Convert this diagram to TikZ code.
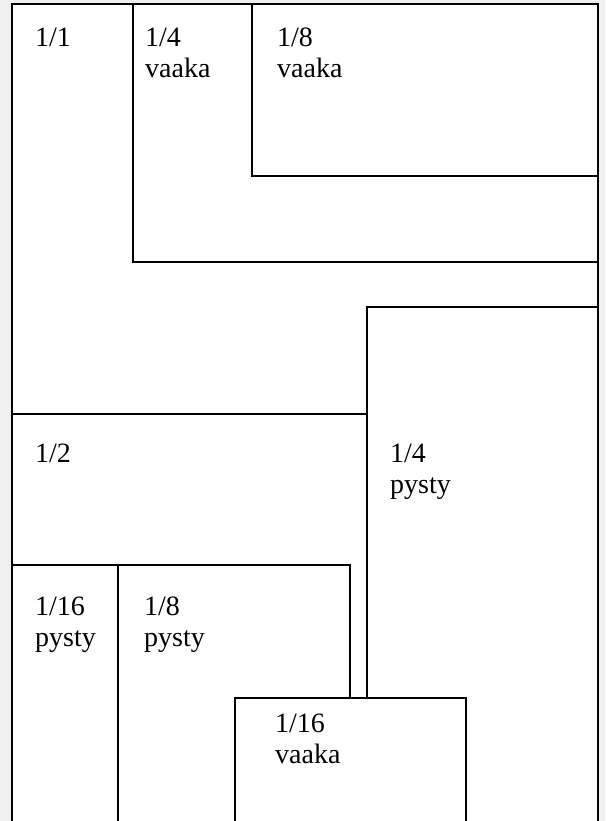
\documentclass[tikz,border=0pt]{standalone}
\usepackage{fontspec}
\setmainfont{Liberation Serif}
\definecolor{paper}{RGB}{240,240,242}

\begin{document}
\begin{tikzpicture}[x=1pt,y=-1pt]
    %
    % `part' is used for the cut lines of the smaller sheets.
    % `sheet' is used for the edge of the whole sheet.
    % `size' is used for the size labels (placed at the last baseline).
    \tikzstyle{part} = [draw=black,line width=1.1pt]
    \tikzstyle{sheet} = [draw=black,line width=2pt]
    \tikzstyle{size} = [anchor=base west,inner sep=0pt,align=left,font=\fontsize{28}{31}\selectfont]
    %
    % Background
    \fill[paper] (0,0) rectangle (605,821);
    \useasboundingbox (0,0) rectangle (605,821);
    \clip (0,0) rectangle (605,821);
    \fill[white] (12,4) rectangle (598,830);
    %
    % Upper sheets
    \draw[part] (133,4) rectangle (598,262);
    \draw[part] (252,4) rectangle (598,176);
    \draw[part] (12,414) -- (367,414);
    %
    % Right sheet
    \draw[part] (367,698) -- (367,307) -- (598,307);
    %
    % Lower sheets
    \draw[part] (12,565) -- (350,565) -- (350,698);
    \draw[part] (118,565) -- (118,830);
    \draw[part] (235,830) -- (235,698) -- (466,698) -- (466,830);
    %
    % Whole sheet
    \draw[sheet] (12,830) -- (12,4) -- (598,4) -- (598,830);
    %
    % Labels
    \node[size] (whole) at (35,47) {1/1};
    \node[size] (quarterh) at (145,78) {1/4\\vaaka};
    \node[size] (eighthh) at (277,78) {1/8\\vaaka};
    \node[size] (half) at (35,462) {1/2};
    \node[size] (quarterv) at (390,493) {1/4\\pysty};
    \node[size] (sixteenthv) at (35,646) {1/16\\pysty};
    \node[size] (eighthv) at (144,646) {1/8\\pysty};
    \node[size] (sixteenthh) at (275,763) {1/16\\vaaka};
    %
\end{tikzpicture}
\end{document}
